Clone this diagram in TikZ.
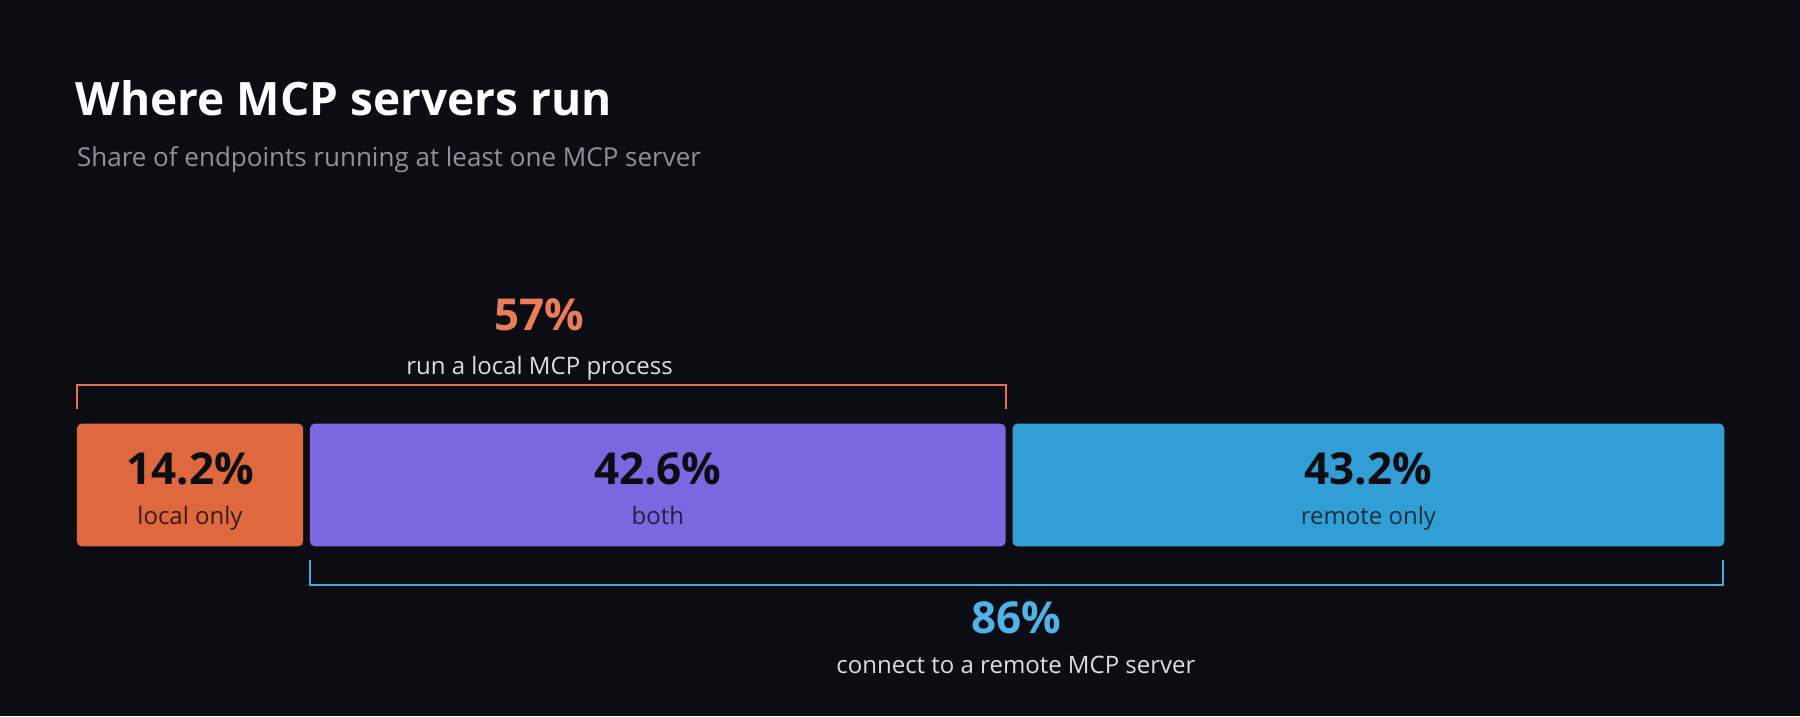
\documentclass[tikz,border=0pt]{standalone}
\usepackage{fontspec}
\setmainfont{Open Sans}
\definecolor{bg}{HTML}{0C0D12}
\definecolor{corg}{HTML}{E0683F}
\definecolor{cpur}{HTML}{7B67DF}
\definecolor{cblu}{HTML}{319FD5}
\definecolor{torg}{HTML}{EC7C55}
\definecolor{tblu}{HTML}{4DB3E8}
\definecolor{lorg}{HTML}{E07452}
\definecolor{lblu}{HTML}{45A9DC}
\definecolor{sub}{HTML}{8E929C}
\definecolor{lt}{HTML}{DDDDE2}
\begin{document}
\begin{tikzpicture}[x=1.148pt,y=-1.148pt,
  bar/.style={rounded corners=5pt,draw=none},
  big/.style={font=\fontsize{44}{48}\selectfont\bfseries},
  lab/.style={font=\fontsize{24}{28}\selectfont},
  every node/.style={inner sep=0pt}]
\fill[bg] (0,0) rectangle (1568,624);
\useasboundingbox (0,0) rectangle (1568,624);
\node[anchor=base west,text=white,font=\fontsize{46}{50}\selectfont\bfseries] (title) at (66,101) {Where MCP servers run};
\node[anchor=base west,text=sub,font=\fontsize{26}{30}\selectfont] (subt) at (67,145) {Share of endpoints running at least one MCP server};
% brackets
\coordinate (o1) at (67,356); \coordinate (o2) at (876,356);
\draw[lorg,line width=2pt] (o1) -- (67,335) -- (876,335) -- (o2);
\coordinate (b1) at (270,488); \coordinate (b2) at (1501,488);
\draw[lblu,line width=2pt] (b1) -- (270,510) -- (1501,510) -- (b2);
\node[big,text=torg,anchor=base] (p57) at (470,288) {57\%};
\node[lab,text=lt,anchor=base] (l57) at (470,326) {run a local MCP process};
\node[big,text=tblu,anchor=base] (p86) at (885,552) {86\%};
\node[lab,text=lt,anchor=base] (l86) at (885,587) {connect to a remote MCP server};
% bars
\fill[bar,corg] (67,369) rectangle (264,476);
\fill[bar,cpur] (270,369) rectangle (876,476);
\fill[bar,cblu] (882,369) rectangle (1502,476);
\node[big,text=bg,anchor=base] (a1) at (165.5,422) {14.2\%};
\node[lab,text=black!75!corg,anchor=base] (a2) at (165.5,457) {local only};
\node[big,text=bg,anchor=base] (c1) at (573,422) {42.6\%};
\node[lab,text=black!70!cpur,anchor=base] (c2) at (573,457) {both};
\node[big,text=bg,anchor=base] (d1) at (1192,422) {43.2\%};
\node[lab,text=black!70!cblu,anchor=base] (d2) at (1192,457) {remote only};
\end{tikzpicture}
\end{document}
